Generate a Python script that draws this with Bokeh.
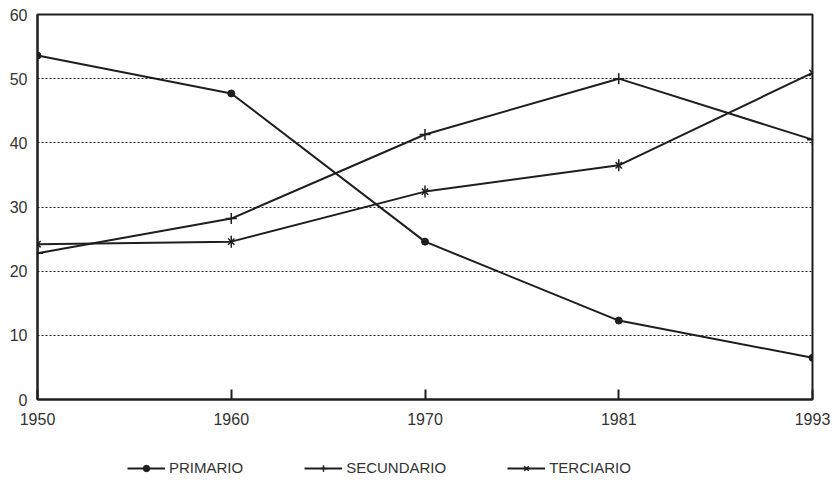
import math
from bokeh.plotting import figure
from bokeh.layouts import column
from bokeh.models import Range1d, FixedTicker, Legend, LegendItem
from bokeh.embed import file_html
from bokeh.resources import INLINE

years = ["1950", "1960", "1970", "1981", "1993"]
primario = [53.6, 47.7, 24.6, 12.3, 6.5]
secundario = [22.8, 28.2, 41.3, 50.0, 40.5]
terciario = [24.2, 24.6, 32.4, 36.5, 50.9]
y_ticks = [0, 10, 20, 30, 40, 50, 60]
series_names = ["PRIMARIO", "SECUNDARIO", "TERCIARIO"]

xs = list(range(len(years)))
FONT = "Liberation Sans"
INK = "#1e1e1e"
TXT = "#333333"

p = figure(width=836, height=430, output_backend="svg", toolbar_location=None,
           x_range=Range1d(0, len(years) - 1), y_range=Range1d(0, 60),
           min_border_left=37, min_border_right=24, min_border_top=14, min_border_bottom=31)
p.outline_line_color = INK
p.outline_line_width = 2
p.background_fill_color = "white"
p.border_fill_color = "white"

p.xgrid.visible = False
p.ygrid.ticker = FixedTicker(ticks=[10, 20, 30, 40, 50])
p.ygrid.grid_line_color = INK
p.ygrid.grid_line_dash = "2 2"
p.ygrid.grid_line_width = 1

p.xaxis.ticker = FixedTicker(ticks=xs)
p.xaxis.major_label_overrides = {i: y for i, y in enumerate(years)}
p.yaxis.ticker = FixedTicker(ticks=y_ticks)
for ax in (p.xaxis[0], p.yaxis[0]):
    ax.axis_line_color = INK
    ax.axis_line_width = 2
    ax.minor_tick_line_color = None
    ax.major_label_text_font = FONT
    ax.major_label_text_font_size = "16px"
    ax.major_label_text_color = TXT
p.xaxis.major_tick_in = 10
p.xaxis.major_tick_out = 0
p.xaxis.major_tick_line_color = INK
p.xaxis.major_tick_line_width = 2
p.xaxis.major_label_standoff = 13
p.yaxis.major_tick_in = 0
p.yaxis.major_tick_out = 0
p.yaxis.major_label_standoff = 10


def draw(fig, vals, kind):
    rs = [fig.line(xs, vals, line_color=INK, line_width=2)]
    if kind == "circle":
        rs.append(fig.scatter(xs, vals, marker="circle", size=7, line_color=INK,
                              fill_color=INK))
    elif kind == "cross":
        rs.append(fig.scatter(xs, vals, marker="cross", size=11, line_color=INK,
                              line_width=1.5))
    else:
        rs.append(fig.scatter(xs, vals, marker="x", size=9, line_color=INK,
                              line_width=1.5))
        rs.append(fig.scatter(xs, vals, marker="dash", size=12, angle=math.pi / 2,
                              line_color=INK, line_width=1.5))
    return rs


kinds = ["circle", "cross", "star6"]
all_vals = [primario, secundario, terciario]
for vals, kind in zip(all_vals, kinds):
    draw(p, vals, kind)

# legend strip below the chart (its own renderers lie outside its visible range)
lg = figure(width=836, height=53, output_backend="svg", toolbar_location=None,
            x_range=Range1d(100, 101), y_range=Range1d(100, 101),
            min_border_left=0, min_border_right=0, min_border_top=0, min_border_bottom=0)
lg.axis.visible = False
lg.grid.visible = False
lg.outline_line_color = None
lg.border_fill_color = "white"
items = []
for name, vals, kind in zip(series_names, all_vals, kinds):
    items.append(LegendItem(label=name, renderers=draw(lg, vals, kind)))
legend = Legend(items=items, orientation="horizontal", location=(90, 7),
                glyph_width=38, glyph_height=16, label_standoff=4, spacing=61,
                label_text_font=FONT, label_text_font_size="15px", label_text_color=TXT,
                border_line_color=None, background_fill_alpha=0, padding=0, margin=0)
lg.add_layout(legend)

layout = column(p, lg, spacing=0)
open("out.html", "w").write(file_html(layout, INLINE))
